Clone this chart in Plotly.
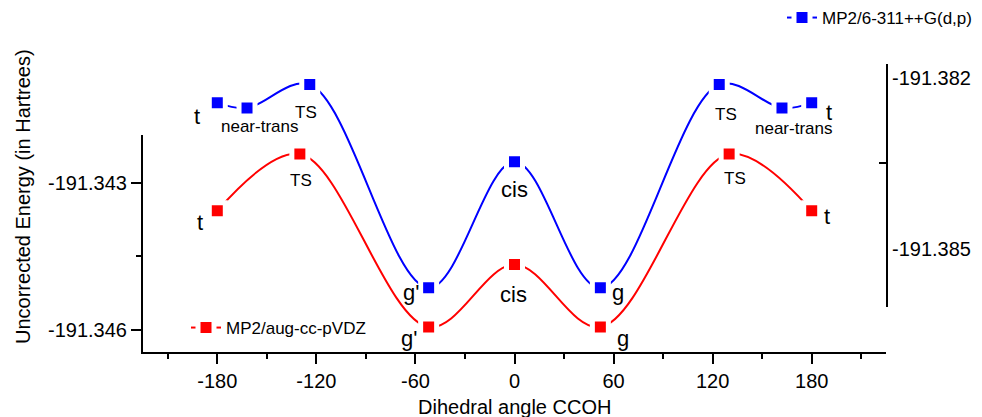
import plotly.graph_objects as go

# ---- data ----
angles_blue = [-180, -162, -124, -52, 0, 52, 124, 162, 180]
energy_blue = [-191.38244, -191.38253, -191.38212, -191.38568, -191.38347,
               -191.38568, -191.38212, -191.38253, -191.38244]
labels_blue = ["t", "near-trans", "TS", "g'", "cis", "g", "TS", "near-trans", "t"]

angles_red = [-180, -130, -52, 0, 52, 130, 180]
energy_red = [-191.34357, -191.34241, -191.34595, -191.34467, -191.34595,
              -191.34241, -191.34357]
labels_red = ["t", "TS", "g'", "cis", "g", "TS", "t"]

name_blue = "MP2/6-311++G(d,p)"
name_red = "MP2/aug-cc-pVDZ"

x_ticks = [-180, -120, -60, 0, 60, 120, 180]
x_ticktext = ["-180", "-120", "-60", "0", "60", "120", "180"]
x_minor = [-210, -150, -90, -30, 30, 90, 150, 210]
left_ticks = [-191.343, -191.346]
left_ticktext = ["-191.343", "-191.346"]
left_minor = [-191.3445]
right_ticks = [-191.382, -191.385]
right_ticktext = ["-191.382", "-191.385"]
right_minor = [-191.3835]

# label offsets (px) relative to their points
shift_blue = [(-20, -14), (12, -19), (-4, -28), (-18, -5), (0, -28),
              (18, -5), (7, -30), (12, -21), (17, -10)]
shift_red = [(-17, -12), (1, -26), (-20, -11), (-1, -30), (23, -11),
             (6, -24), (15, -6)]

FONT = "Liberation Sans, Arial, sans-serif"
BLUE = "#0000FF"
RED = "#FF0000"

# page body has an 8px margin; figure is offset by it
OFF = 8
W, H = 982 - OFF, 417 - OFF
left_px, right_px, top_px, bottom_px = 143 - OFF, 886 - OFF, 64 - OFF, 352 - OFF
ml, mr, mt, mb = left_px, W - right_px, top_px, H - bottom_px
ph = H - mt - mb
pw = W - ml - mr


def paper_x(px):
    return (px - OFF - ml) / pw


def paper_y(py):
    return (bottom_px - (py - OFF)) / ph


fig = go.Figure()
fig.add_trace(go.Scatter(
    x=angles_red, y=energy_red, name=name_red, mode="lines+markers",
    line=dict(color=RED, width=2, shape="spline", smoothing=1.0),
    marker=dict(symbol="square", size=16, color=RED, line=dict(color="white", width=5)),
    xaxis="x", yaxis="y", legend="legend", showlegend=True, cliponaxis=False))
fig.add_trace(go.Scatter(
    x=angles_blue, y=energy_blue, name=name_blue, mode="lines+markers",
    line=dict(color=BLUE, width=2, shape="spline", smoothing=1.0),
    marker=dict(symbol="square", size=16, color=BLUE, line=dict(color="white", width=5)),
    xaxis="x", yaxis="y2", legend="legend2", showlegend=True, cliponaxis=False))

small = {"TS", "near-trans"}
annotations = []
for xs, ys, labs, shifts, yref in [(angles_blue, energy_blue, labels_blue, shift_blue, "y2"),
                                   (angles_red, energy_red, labels_red, shift_red, "y")]:
    for xv, yv, lab, (dx, dy) in zip(xs, ys, labs, shifts):
        annotations.append(dict(
            x=xv, y=yv, xref="x", yref=yref, text=lab, showarrow=False,
            xshift=dx, yshift=dy,
            font=dict(family=FONT, size=17 if lab in small else 22, color="black")))

annotations.append(dict(
    x=paper_x(23), y=paper_y(197), xref="paper", yref="paper",
    xanchor="center", yanchor="middle",
    text="Uncorrected Energy (in Hartrees)", showarrow=False, textangle=-90,
    font=dict(family=FONT, size=20, color="black")))
annotations.append(dict(
    x=paper_x(514), y=paper_y(407), xref="paper", yref="paper",
    xanchor="center", yanchor="middle",
    text="Dihedral angle CCOH", showarrow=False,
    font=dict(family=FONT, size=20, color="black")))

fig.update_layout(
    width=W, height=H,
    margin=dict(l=ml, r=mr, t=mt, b=mb, autoexpand=False),
    paper_bgcolor="white", plot_bgcolor="rgba(0,0,0,0)",
    font=dict(family=FONT, size=20, color="black"),
    annotations=annotations,
    showlegend=True,
    xaxis=dict(
        range=[-225, 225], domain=[0, 1], anchor="y", automargin=False,
        tickmode="array", tickvals=x_ticks, ticktext=x_ticktext,
        ticks="outside", ticklen=10, tickwidth=2, tickcolor="black",
        showline=True, linecolor="black", linewidth=2,
        showgrid=False, zeroline=False,
        minor=dict(tickmode="array", tickvals=x_minor,
                   ticks="outside", ticklen=5, tickwidth=2, tickcolor="black", showgrid=False),
        tickfont=dict(size=20),
    ),
    yaxis=dict(
        range=[-191.34646, -191.34202], domain=[0, paper_y(135)], anchor="x",
        automargin=False,
        tickmode="array", tickvals=left_ticks, ticktext=left_ticktext,
        ticks="outside", ticklen=10, tickwidth=2, tickcolor="black",
        showline=True, linecolor="black", linewidth=2,
        showgrid=False, zeroline=False,
        minor=dict(tickmode="array", tickvals=left_minor,
                   ticks="outside", ticklen=5, tickwidth=2, tickcolor="black", showgrid=False),
        tickfont=dict(size=20),
    ),
    yaxis2=dict(
        range=[-191.38601, -191.38176],
        domain=[paper_y(306.7), 1], anchor="x", side="right", automargin=False,
        tickmode="array", tickvals=right_ticks, ticktext=right_ticktext,
        ticks="", showline=True, linecolor="black", linewidth=2,
        showgrid=False, zeroline=False,
        minor=dict(tickmode="array", tickvals=right_minor,
                   ticks="inside", ticklen=7, tickwidth=2, tickcolor="black", showgrid=False),
        tickfont=dict(size=20),
    ),
    legend=dict(x=paper_x(186), y=paper_y(328), xanchor="left", yanchor="middle",
                bgcolor="rgba(0,0,0,0)", font=dict(size=17)),
    legend2=dict(x=paper_x(782), y=paper_y(18), xanchor="left", yanchor="middle",
                 bgcolor="rgba(0,0,0,0)", font=dict(size=17)),
)

fig.write_html("out.html")
